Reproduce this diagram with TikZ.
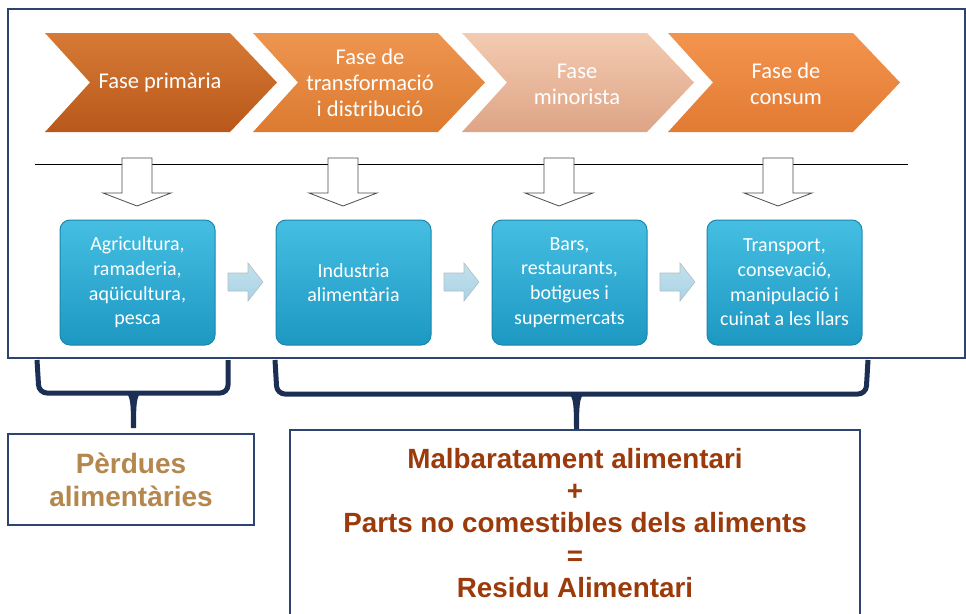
\documentclass[tikz,border=0pt]{standalone}
\usepackage{fontspec}
\setmainfont{Carlito}
\newfontfamily\arialb{Liberation Sans}
\definecolor{navy}{HTML}{1B2F55}
\definecolor{frameblue}{HTML}{2E4470}
\definecolor{boxcyanT}{HTML}{45BEE2}
\definecolor{boxcyanB}{HTML}{1D98C2}
\definecolor{boxcyanD}{HTML}{1A86AD}
\definecolor{perdcol}{HTML}{B4874F}
\definecolor{rustcol}{HTML}{9B3A0B}
\definecolor{smallarr}{HTML}{A9D3E5}
\definecolor{chAT}{HTML}{D77A36}\definecolor{chAB}{HTML}{B8581A}
\definecolor{chBT}{HTML}{EE9550}\definecolor{chBB}{HTML}{DC7A30}
\definecolor{chCT}{HTML}{F3CBB1}\definecolor{chCB}{HTML}{DEA486}
\definecolor{chDT}{HTML}{F3944E}\definecolor{chDB}{HTML}{E27A32}
\begin{document}
\begin{tikzpicture}[x=1pt,y=-1pt,
  chevtext/.style={text=white,align=center,font=\fontsize{22.5}{26}\selectfont},
  bluebox/.style={draw=boxcyanD,line width=1pt,rounded corners=10pt,top color=boxcyanT,bottom color=boxcyanB},
  boxtext/.style={text=white,align=center,font=\fontsize{20}{24.7}\selectfont},
  hollowarrow/.style={draw=black!70,fill=white,line width=0.8pt},
  flowarrow/.style={top color=smallarr!70!white,bottom color=smallarr},
  bracestyle/.style={draw=navy,line width=5pt,rounded corners=8pt},
  labelbox/.style={draw=frameblue,line width=1.2pt,fill=white}
]
\useasboundingbox (0,0) rectangle (966,613);
% outer frame
\draw[draw=frameblue,line width=1.5pt] (8,9) rectangle (965,358);

% chevrons
\foreach \x/\ct/\cb in {45/chAT/chAB, 253/chBT/chBB, 462/chCT/chCB, 668/chDT/chDB}{
  \shade[top color=\ct, bottom color=\cb] (\x,33) -- ++(185,0) -- ++(47,49.5) -- ++(-47,49.5) -- ++(-185,0) -- ++(45,-49.5) -- cycle;
}
\node[chevtext] (t1) at (160,83) {Fase primària};
\node[chevtext] (t2) at (370,83) {Fase de\\transformació\\i distribució};
\node[chevtext] (t3) at (577,84) {Fase\\minorista};
\node[chevtext] (t4) at (786,84) {Fase de\\consum};

% horizontal line
\coordinate (hl) at (35,164);
\coordinate (hr) at (908,164);
\draw[line width=1pt] (hl) -- (hr);

% hollow arrows
\foreach \c in {137, 343, 559, 778}{
  \draw[hollowarrow] (\c-15,158) -- (\c+15,158) -- (\c+15,193) -- (\c+34,193) -- (\c,206) -- (\c-34,193) -- (\c-15,193) -- cycle;
}

% blue boxes
\node[bluebox,minimum width=155pt,minimum height=125pt] (b1) at (137.5,282.5) {};
\node[bluebox,minimum width=155pt,minimum height=125pt] (b2) at (353.5,282.5) {};
\node[bluebox,minimum width=155pt,minimum height=125pt] (b3) at (569.5,282.5) {};
\node[bluebox,minimum width=155pt,minimum height=125pt] (b4) at (784.5,282.5) {};
\node[boxtext] (bt1) at (b1) {Agricultura,\\ramaderia,\\aqüicultura,\\pesca};
\node[boxtext] (bt2) at (b2) {Industria\\alimentària};
\node[boxtext] (bt3) at (b3) {Bars,\\restaurants,\\botigues i\\supermercats};
\node[boxtext] (bt4) at (b4) {Transport,\\consevació,\\manipulació i\\cuinat a les llars};

% small flow arrows
\foreach \xa in {228, 444, 660}{
  \shade[flowarrow] (\xa,273) -- (\xa+20,273) -- (\xa+20,263) -- (\xa+35,282) -- (\xa+20,301) -- (\xa+20,291) -- (\xa,291) -- cycle;
  \draw[draw=smallarr!60!black!50,line width=0.6pt] (\xa,273) -- (\xa+20,273) -- (\xa+20,263) -- (\xa+35,282) -- (\xa+20,301) -- (\xa+20,291) -- (\xa,291) -- cycle;
}

% braces
\draw[bracestyle] (37,360) -- (39,393) -- (228,393) -- (228,360);
\fill[navy] (122,391) .. controls (130,393) and (131,398) .. (131,428) -- (136,428) .. controls (136,398) and (137,393) .. (145,391) -- cycle;
\draw[bracestyle] (275,360) -- (277,394) -- (866,394) -- (868,360);
\fill[navy] (565,392) .. controls (573,394) and (574,400) .. (574,429) -- (579,429) .. controls (579,400) and (580,394) .. (588,392) -- cycle;

% label boxes
\node[labelbox,minimum width=246pt,minimum height=91pt] (pb) at (131,479.5) {};
\node[text=perdcol,align=center,font=\arialb\bfseries\fontsize{28}{33}\selectfont] (pt) at (pb) {Pèrdues\\alimentàries};
\draw[labelbox] (290,430) rectangle (860,625);
\node[text=rustcol,align=center,font=\arialb\bfseries\fontsize{27.8}{32.3}\selectfont] (rt) at (575,523) {Malbaratament alimentari\\+\\Parts no comestibles dels aliments\\=\\Residu Alimentari};
\end{tikzpicture}
\end{document}
